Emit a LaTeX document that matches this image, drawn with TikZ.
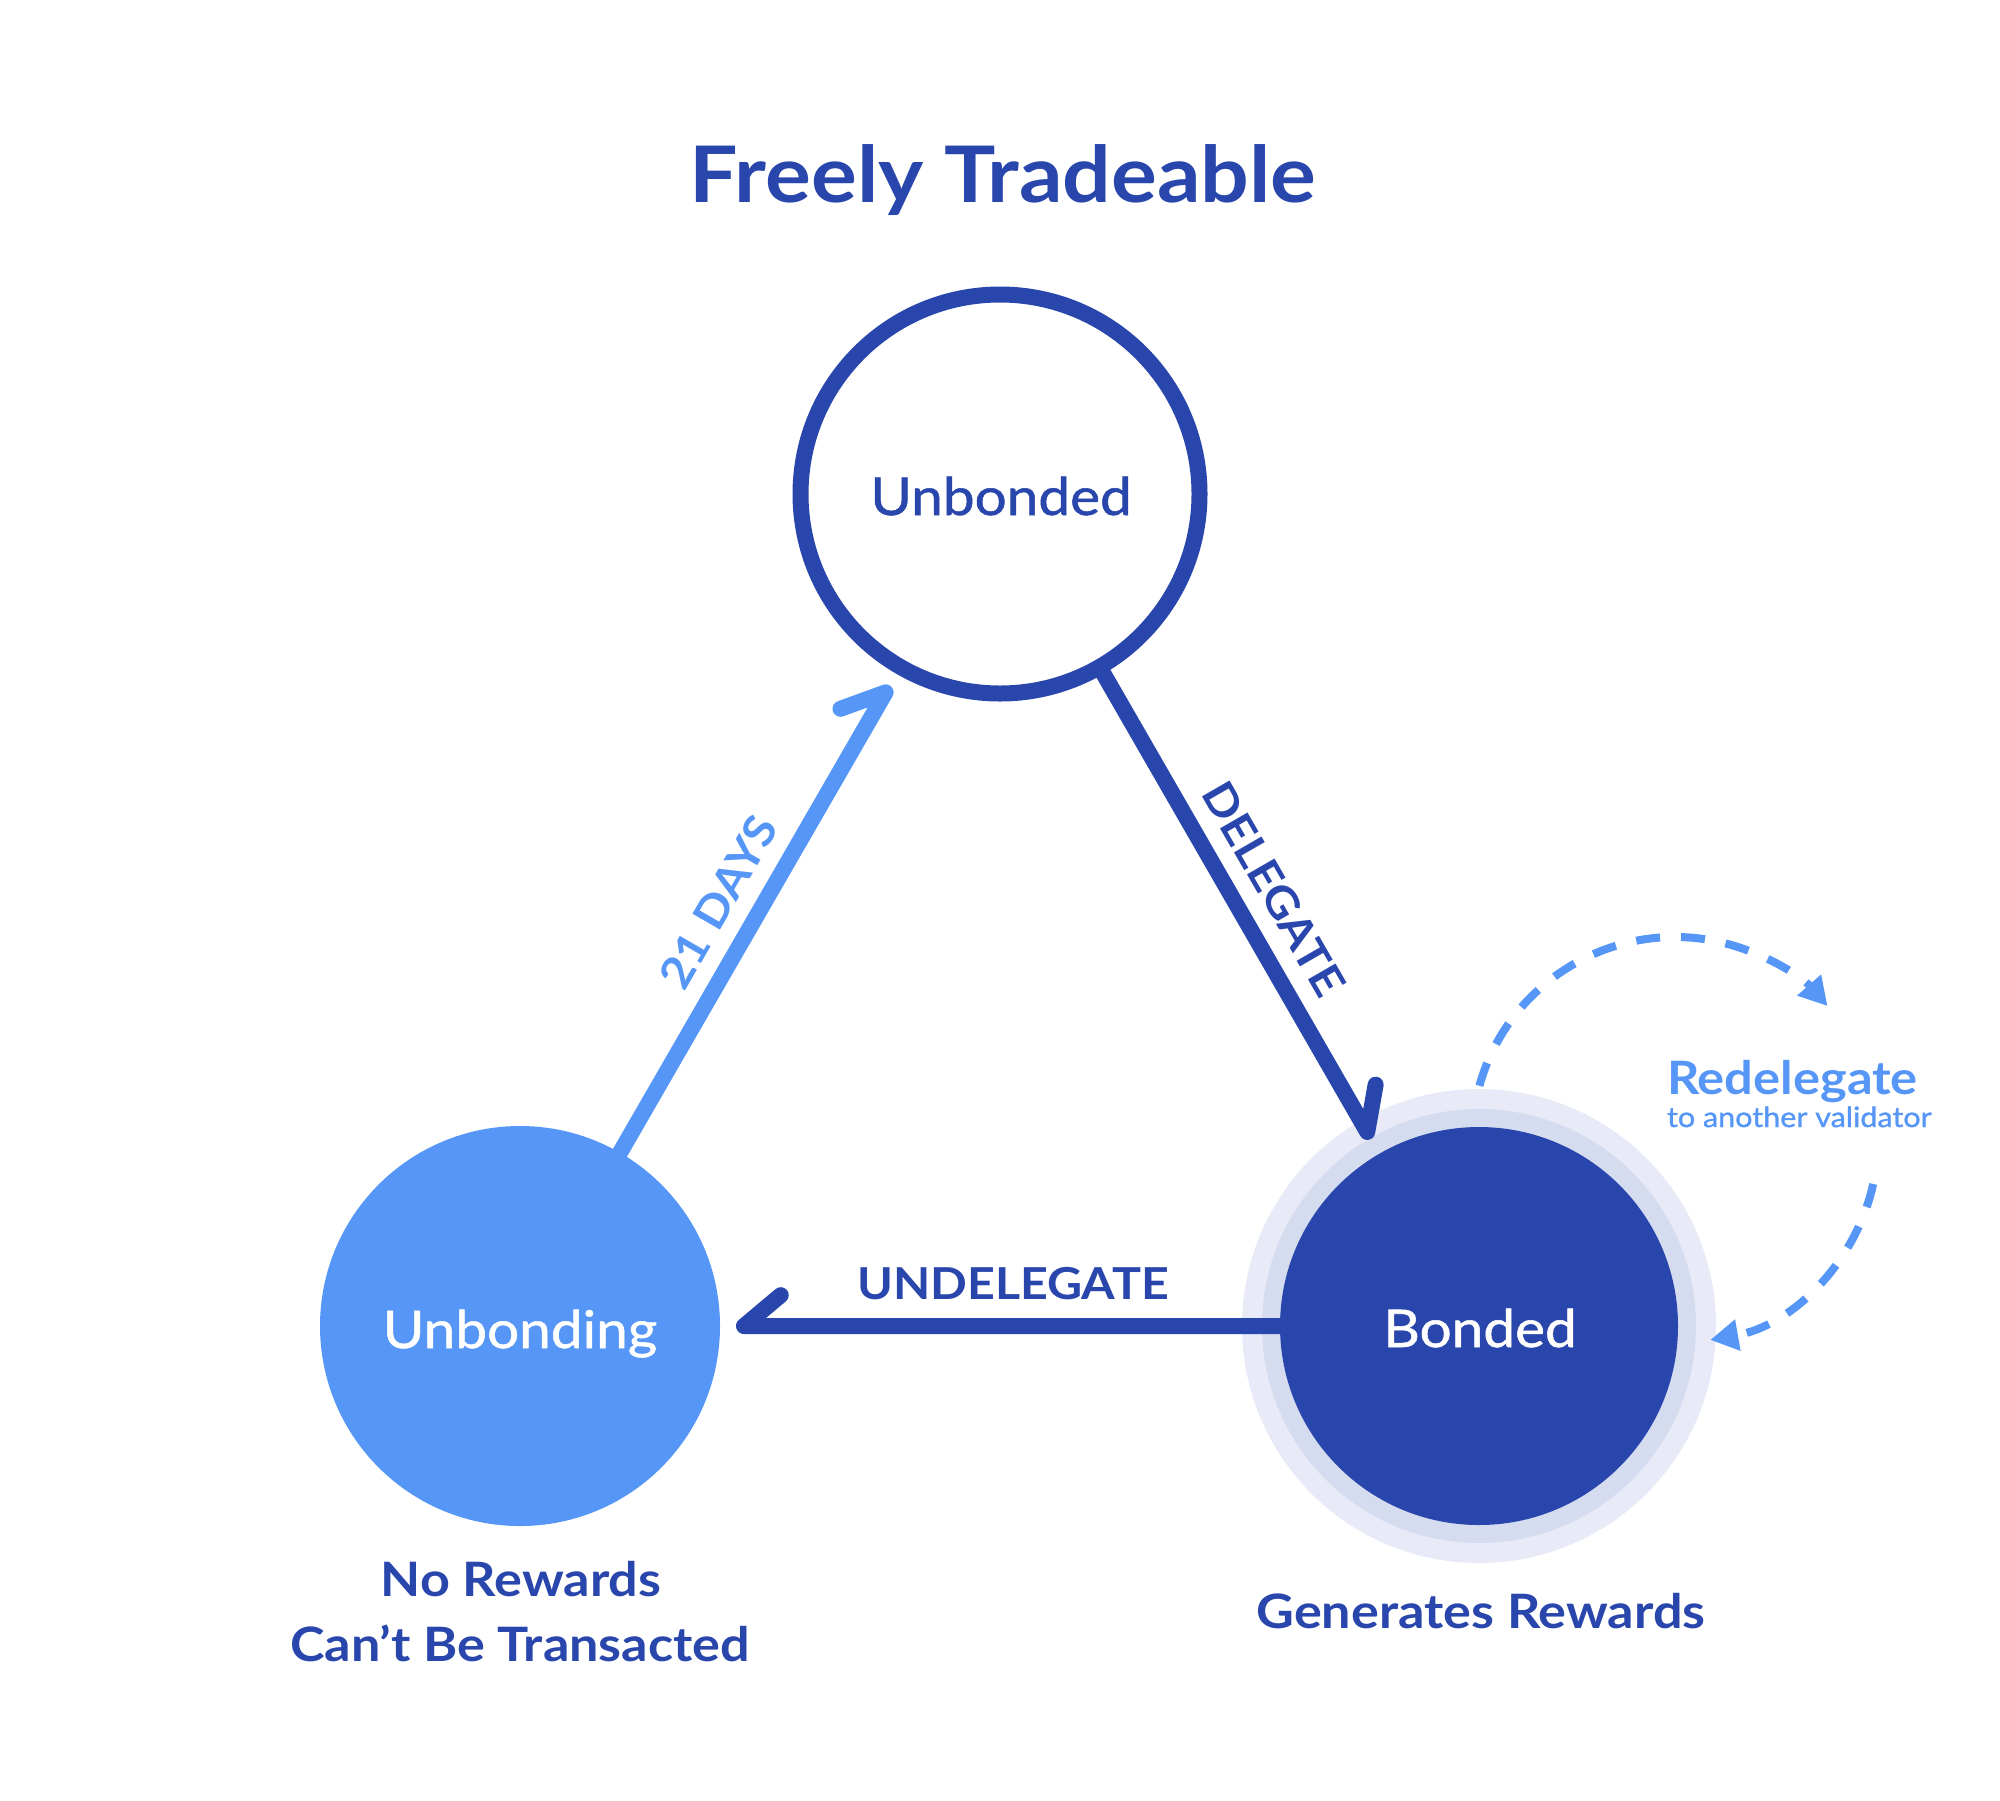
\documentclass[tikz,border=0pt]{standalone}
\usepackage{fontspec}
\setmainfont{Lato}[FakeStretch=1.1]
\newfontfamily\medfont{Lato}[FakeStretch=1.09,FakeBold=1]
\usetikzlibrary{arrows.meta,calc}
\definecolor{dkblue}{RGB}{41,70,173}
\definecolor{ltblue}{RGB}{85,150,247}
\definecolor{haloA}{RGB}{232,235,247}
\definecolor{haloB}{RGB}{214,220,240}
\begin{document}
\begin{tikzpicture}[x=0.5pt,y=-0.5pt,
  conn/.style={line width=8pt,line cap=round,line join=round},
  lbl/.style={inner sep=0pt,outer sep=0pt},
  disc/.style={circle,inner sep=0pt,outer sep=0pt},
  titlefont/.style={font=\fontsize{39}{47}\selectfont\bfseries},
  edgefont/.style={font=\fontsize{22}{26}\selectfont\bfseries},
  statefont/.style={font=\fontsize{26}{30}\medfont},
  notefont/.style={font=\fontsize{23.7}{28}\selectfont\bfseries},
  loopline/.style={ltblue,line width=4pt,dash pattern=on 12pt off 10.5pt,-{Triangle[length=14pt,width=15pt]}}]
\fill[white] (0,0) rectangle (2000,1800);
\useasboundingbox (0,0) rectangle (2000,1800);

\node[lbl,titlefont,anchor=base,text=dkblue] (title) at (1003,202) {Freely Tradeable};

% states
\node[disc,fill=haloA,minimum size=237pt] (halo) at (1479,1326) {};
\node[disc,fill=haloB,minimum size=217pt] (bondedring) at (1479,1326) {};
\node[disc,fill=dkblue,minimum size=199pt] (bonded) at (1479,1326) {};
\node[circle,inner sep=0pt,draw=dkblue,line width=8pt,fill=white,minimum size=199.5pt] (unbonded) at (1000,494) {};
\node[disc,fill=ltblue,minimum size=200pt] (unbonding) at (520,1326) {};

% delegate
\coordinate (dTip) at ($(bonded)!112pt!(unbonded)$);
\coordinate (dBarb) at ($(dTip)!24pt!-40:(unbonded)$);
\draw[conn,dkblue] (unbonded) -- (dTip) -- (dBarb);
% 21 days
\coordinate (tTip) at ($(unbonded)!114.5pt!(unbonding)$);
\coordinate (tBarb) at ($(tTip)!24pt!-40:(unbonding)$);
\draw[conn,ltblue] (unbonding) -- (tTip) -- (tBarb);
% undelegate
\coordinate (uTip) at ($(unbonding)!112pt!(bonded)$);
\coordinate (uBarb) at ($(uTip)!24pt!40:(bonded)$);
\draw[conn,dkblue] (bonded) -- (uTip) -- (uBarb);

\node[lbl,edgefont,rotate=60,text=ltblue] (days) at (718,902) {21 DAYS};
\node[lbl,edgefont,rotate=-60,text=dkblue] (deleg) at (1274,889) {DELEGATE};
\node[lbl,edgefont,anchor=base,text=dkblue] (undeleg) at (1013,1299) {UNDELEGATE};

% state labels
\node[lbl,statefont,anchor=base,text=dkblue] (tUnbonded) at (1001,515) {Unbonded};
\node[lbl,statefont,anchor=base,text=white] (tUnbonding) at (520,1348) {Unbonding};
\node[lbl,statefont,anchor=base,text=white] (tBonded) at (1480,1347) {Bonded};

% notes
\node[lbl,notefont,anchor=base,text=dkblue] (nr) at (521,1596) {No Rewards};
\node[lbl,notefont,anchor=base,text=dkblue] (cbt) at (520,1661) {Can’t Be Transacted};
\node[lbl,notefont,anchor=base,text=dkblue] (gr) at (1481,1628) {Generates Rewards};

% redelegate loop
\coordinate (loopc) at (1675,1140);
\draw[loopline] ([shift={(164.5:101.5pt)}]loopc) arc[start angle=164.5,end angle=41.3,radius=101.5pt];
\draw[loopline] ([shift={(-12.5:101.5pt)}]loopc) arc[start angle=-12.5,end angle=-80,radius=101.5pt];
\node[lbl,anchor=base west,font=\fontsize{23}{27}\selectfont\bfseries,text=ltblue] (redel) at (1667,1094) {Redelegate};
\node[lbl,anchor=base west,font=\fontsize{14}{17}\medfont,text=ltblue] (redelsub) at (1667,1127) {to another validator};
\end{tikzpicture}
\end{document}
